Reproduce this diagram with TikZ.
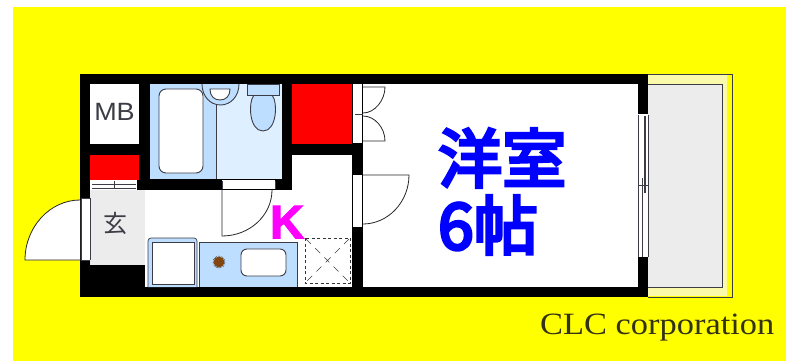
\documentclass[tikz,border=0pt]{standalone}
\usepackage{fontspec}
\setmainfont{Liberation Serif}[FakeStretch=1.11]
\newfontfamily\cjk[FakeBold=5]{Noto Sans CJK JP}
\newfontfamily\cjkthin{Noto Sans CJK JP}
\newfontfamily\sansf[FakeStretch=1.08]{Liberation Sans}
\newfontfamily\sansb[FakeBold=2.5]{Liberation Sans Bold}
\definecolor{bgyellow}{RGB}{255,255,0}
\definecolor{bathdark}{RGB}{190,222,255}
\definecolor{bathlight}{RGB}{222,240,255}
\definecolor{greyfloor}{RGB}{236,236,236}
\definecolor{palebal}{RGB}{250,250,170}
\definecolor{lineg}{RGB}{60,60,70}
\definecolor{brownd}{RGB}{130,70,15}
\definecolor{roomblue}{RGB}{0,0,255}
\definecolor{textolive}{RGB}{50,50,20}
\definecolor{kmag}{RGB}{255,0,255}
\tikzset{
  wall/.style={fill=black,draw=none},
  fix/.style={draw=lineg,line width=0.9pt},
  doorline/.style={draw=black!85,line width=0.8pt},
  roomlabel/.style={text=roomblue,inner sep=0pt,font=\cjk\fontsize{64}{64}\selectfont},
}
\begin{document}
\begin{tikzpicture}[x=1pt,y=-1pt]
\useasboundingbox (0,0) rectangle (786,361);
\fill[white] (0,0) rectangle (786,361);
\fill[bgyellow] (13,7) rectangle (786,361);
% balcony
\fill[palebal] (648,75) rectangle (727,296);
\draw[lineg,line width=0.8pt] (648,74) -- (732,74) -- (732,297) -- (648,297);
\fill[greyfloor] (648,84) rectangle (722,287);
\draw[fix] (648,84) -- (722,84) -- (722,287) -- (648,287);
% outer wall
\fill[wall] (80,74) rectangle (648,297);
% floor
\fill[white] (90,84) rectangle (638,287);
% room interior walls
\fill[wall] (139,84) rectangle (150,190);
\fill[wall] (90,144) rectangle (150,155);
\fill[wall] (137,180) rectangle (150,190);
\fill[wall] (150,179) rectangle (292,190);
\fill[wall] (282,84) rectangle (292,190);
\fill[wall] (282,144) rectangle (363,155);
\fill[wall] (352,84) rectangle (363,287);
\fill[wall] (90,265) rectangle (145,287);
% white gaps
\fill[white] (222,180) rectangle (275,189);
\fill[white] (353,84) rectangle (362,143);
\fill[white] (353,175) rectangle (362,227);
\fill[white] (81,198) rectangle (90,260);
% red closets
\fill[red] (90,155) rectangle (139,180);
\fill[red] (292,84) rectangle (352,144);
% MB, entrance
\fill[white] (90,84) rectangle (139,144);
\fill[greyfloor] (90,190) rectangle (145,265);
\fill[white] (91,180) rectangle (137,189);
\draw[lineg,line width=0.6pt] (92,184) -- (136,184) (92,188) -- (136,188) (114,181) -- (114,189);
\draw[lineg,line width=0.6pt] (81,198) -- (90,198) (81,198) -- (81,260) (90,198) -- (90,260) (81,260) -- (90,260);
% bathroom
\fill[bathdark] (150,84) rectangle (216,179);
\fill[bathlight] (216,84) rectangle (282,179);
\draw[fix,fill=white,rounded corners=7pt] (159,89) rectangle (203,173);
\draw[fix] (216,104) -- (216,179);
\draw[fix,fill=bathdark] (202,84) .. controls (202,96) and (210,105) .. (220.5,105) .. controls (231,105) and (239,96) .. (239,84);
\draw[fix,fill=white] (210,89) -- (230,89) .. controls (230,96) and (226,100) .. (220,100) .. controls (214,100) and (210,96) .. (210,89) -- cycle;
\draw[fix,fill=bathdark] (254,95) .. controls (248,102) and (249,131) .. (263,131) .. controls (277,131) and (278,102) .. (272,95) -- cycle;
\draw[fix,fill=bathdark] (247,84) rectangle (279,95);
% doors
\draw[doorline,fill=white] (80,260) -- (25,260) .. controls (25,227) and (50,200) .. (80,200);
\draw[doorline] (222,189) -- (222,236) .. controls (250,236) and (272,215) .. (272,190);
\draw[lineg,line width=0.6pt] (222,181) -- (222,189) (275,181) -- (275,189);
\draw[doorline] (363,87) -- (385,87) .. controls (385,100) and (375,113) .. (363,113);
\draw[doorline] (363,141) -- (385,141) .. controls (385,128) and (375,116) .. (363,116);
\draw[lineg,line width=0.6pt] (355,114) -- (363,114);
\draw[doorline] (363,175) -- (409,175) .. controls (409,202) and (388,224) .. (363,224);
% K (below the counter)
\node[text=kmag,inner sep=0pt,anchor=center] (klabel) at (287,222) {\sansb\fontsize{47}{47}\selectfont K};
% kitchen
\draw[lineg,line width=0.7pt,fill=bathdark,rounded corners=3pt] (148,287) -- (148,238) -- (197,238) -- (197,287);
\draw[fix,fill=white] (152,242) rectangle (194,284);
\draw[lineg,line width=0.8pt,fill=bathdark] (199,287) -- (199,242) -- (297,242) -- (297,287);
\fill[brownd] (219,262) circle (5.5);
\draw[black,densely dotted,line width=0.5pt] (219,262) circle (6);
\draw[fix,fill=white,rounded corners=6pt] (241,249) rectangle (286,276);
\draw[black!80,line width=0.9pt,dash pattern=on 3pt off 2.5pt] (305,238) rectangle (350,283);
\draw[black!75,line width=0.6pt,dash pattern=on 7pt off 6pt] (306,239) -- (349,282) (349,239) -- (306,282);
% window
\fill[white] (638,114) rectangle (648,257);
\draw[lineg,line width=0.8pt] (638,115) -- (638,257) (648,115) -- (648,257) (642,178) -- (642,257);
\draw[lineg,line width=1.2pt] (645,116) -- (645,193);
\draw[white,line width=0.7pt] (638,114) -- (648,114);
\draw[lineg,line width=0.7pt] (638,185) -- (648,185) (642,178) -- (642,192);
% labels
\node[inner sep=0pt,text=lineg] (mb) at (114.5,112) {\sansf\fontsize{25}{25}\selectfont MB};
\node[inner sep=0pt,text=lineg] (genkan) at (115,223) {\cjkthin\fontsize{24}{24}\selectfont 玄};
\node[roomlabel,anchor=west] (yoshitsu) at (438,158) {洋室};
\node[roomlabel,anchor=west] (rokujo) at (438,225) {6帖};
\node[inner sep=0pt,anchor=west,text=textolive] (clc) at (540,328) {\fontsize{31}{31}\selectfont CLC corporation};
\end{tikzpicture}
\end{document}
